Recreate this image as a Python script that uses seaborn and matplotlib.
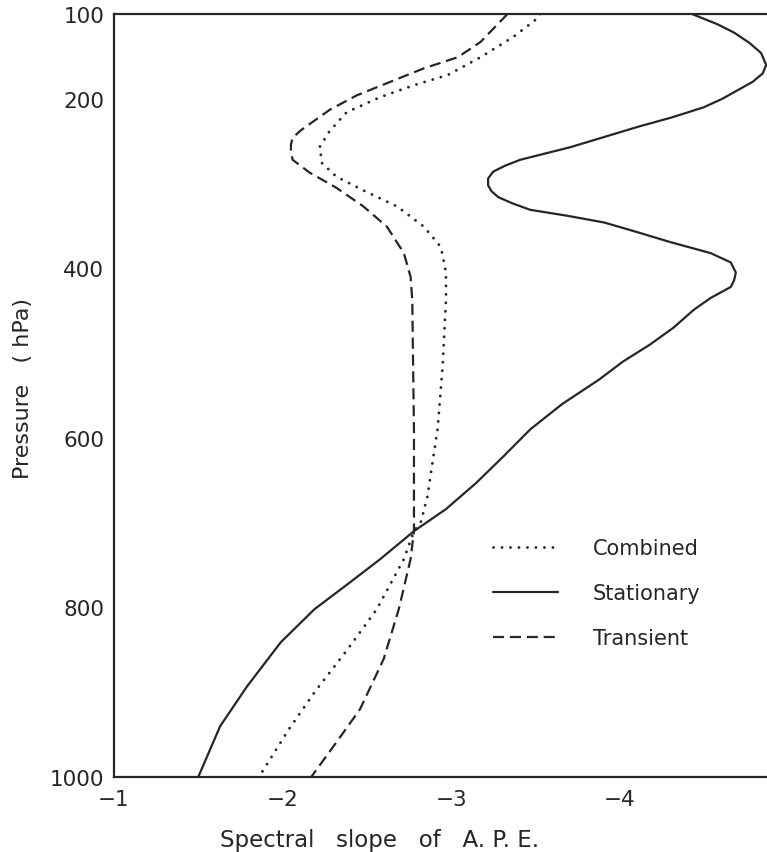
import matplotlib
matplotlib.use("Agg")
import matplotlib.pyplot as plt
import seaborn as sns
import pandas as pd

# Vertical profiles of the spectral slope of available potential energy
p_combined = [100, 104, 127, 151, 172, 184, 198, 216, 238, 257, 276, 292, 310,
              327, 351, 375, 405, 437, 516, 590, 629, 669, 700, 710, 743, 802,
              851, 900, 943, 1000]
slope_combined = [-3.53, -3.52, -3.37, -3.175, -2.98, -2.78, -2.58, -2.38, -2.28,
                  -2.22, -2.235, -2.32, -2.50, -2.68, -2.84, -2.94, -2.97, -2.97,
                  -2.95, -2.92, -2.89, -2.86, -2.82, -2.78, -2.72, -2.56, -2.38,
                  -2.19, -2.04, -1.86]

p_stationary = [100, 112, 122, 134, 146, 160, 170, 180, 190, 200, 210, 222, 233,
                245, 257, 265, 272, 279, 286, 294, 302, 309, 316, 323, 331, 338,
                346, 357, 369, 382, 393, 405, 414, 422, 435, 449, 470, 490, 510,
                531, 560, 590, 622, 653, 684, 710, 743, 772, 802, 841, 893, 940,
                1000]
slope_stationary = [-4.43, -4.58, -4.68, -4.77, -4.84, -4.87, -4.85, -4.79, -4.70,
                    -4.61, -4.50, -4.31, -4.11, -3.91, -3.71, -3.55, -3.41, -3.32,
                    -3.25, -3.22, -3.22, -3.24, -3.28, -3.36, -3.47, -3.69, -3.91,
                    -4.10, -4.30, -4.54, -4.66, -4.69, -4.68, -4.66, -4.54, -4.44,
                    -4.32, -4.18, -4.02, -3.88, -3.66, -3.47, -3.31, -3.15, -2.97,
                    -2.78, -2.58, -2.39, -2.19, -1.99, -1.79, -1.63, -1.50]

p_transient = [100, 133, 151, 164, 180, 196, 213, 237, 246, 254, 263, 272, 287,
               305, 327, 351, 382, 410, 437, 516, 590, 669, 710, 743, 802, 861,
               920, 959, 1000]
slope_transient = [-3.335, -3.175, -3.04, -2.84, -2.64, -2.44, -2.28, -2.11, -2.06,
                   -2.05, -2.05, -2.06, -2.16, -2.32, -2.48, -2.62, -2.72, -2.76,
                   -2.77, -2.775, -2.78, -2.78, -2.78, -2.76, -2.69, -2.60, -2.46,
                   -2.32, -2.17]

x_ticks = [-1, -2, -3, -4]
y_ticks = [100, 200, 400, 600, 800, 1000]

sns.set_style("white")
plt.rcParams["font.family"] = ["DejaVu Sans"]

ink = "#262626"
fig = plt.figure(figsize=(7.67, 8.53), dpi=100)
fig.patch.set_facecolor("white")
ax = fig.add_axes([114 / 767, 75 / 853, 653 / 767, 763 / 853])

series = [
    ("Stationary", p_stationary, slope_stationary,
     dict(linestyle="-", lw=1.6, solid_joinstyle="round")),
    ("Combined", p_combined, slope_combined,
     dict(linestyle=(0, (0.01, 2.9)), lw=2.1, dash_capstyle="round")),
    ("Transient", p_transient, slope_transient,
     dict(linestyle=(0, (5.0, 2.6)), lw=1.6, dash_joinstyle="round")),
]
for name, p, s, style in series:
    df = pd.DataFrame({"slope": s, "pressure": p})
    sns.lineplot(data=df, x="slope", y="pressure", sort=False, estimator=None,
                 color=ink, ax=ax, label=name, **style)

ax.set_xlim(-1, -4.875)
ax.set_ylim(1000, 100)
ax.set_xticks(x_ticks)
ax.set_xticklabels([f"\u2212{abs(v)}" for v in x_ticks])
ax.set_yticks(y_ticks)
ax.set_yticklabels([str(v) for v in y_ticks])
ax.tick_params(axis="both", direction="in", length=7, width=1.5, colors=ink,
               labelsize=15.5)
ax.tick_params(axis="x", pad=9)
ax.tick_params(axis="y", pad=7)

for side in ["left", "bottom", "top"]:
    ax.spines[side].set_linewidth(1.6)
    ax.spines[side].set_color(ink)
ax.spines["right"].set_visible(False)

ax.set_xlabel("Spectral   slope   of   A. P. E.", fontsize=16.5, color=ink)
ax.xaxis.set_label_coords((380 - 114) / 653, -51 / 763)
ax.set_ylabel("Pressure   ( hPa)", fontsize=16, color=ink)
ax.yaxis.set_label_coords(-81 / 653, 0.51)

handles, labels = ax.get_legend_handles_labels()
order = [labels.index(n) for n in ["Combined", "Stationary", "Transient"]]
ax.legend([handles[i] for i in order], [labels[i] for i in order],
          loc="upper left", bbox_to_anchor=((493 - 114) / 653, (778 - 539) / 763),
          frameon=False, fontsize=15, handlelength=3.1, handletextpad=1.7,
          labelspacing=1.2, borderpad=0, borderaxespad=0, labelcolor=ink)

fig.savefig("out.png", dpi=100, facecolor="white")
